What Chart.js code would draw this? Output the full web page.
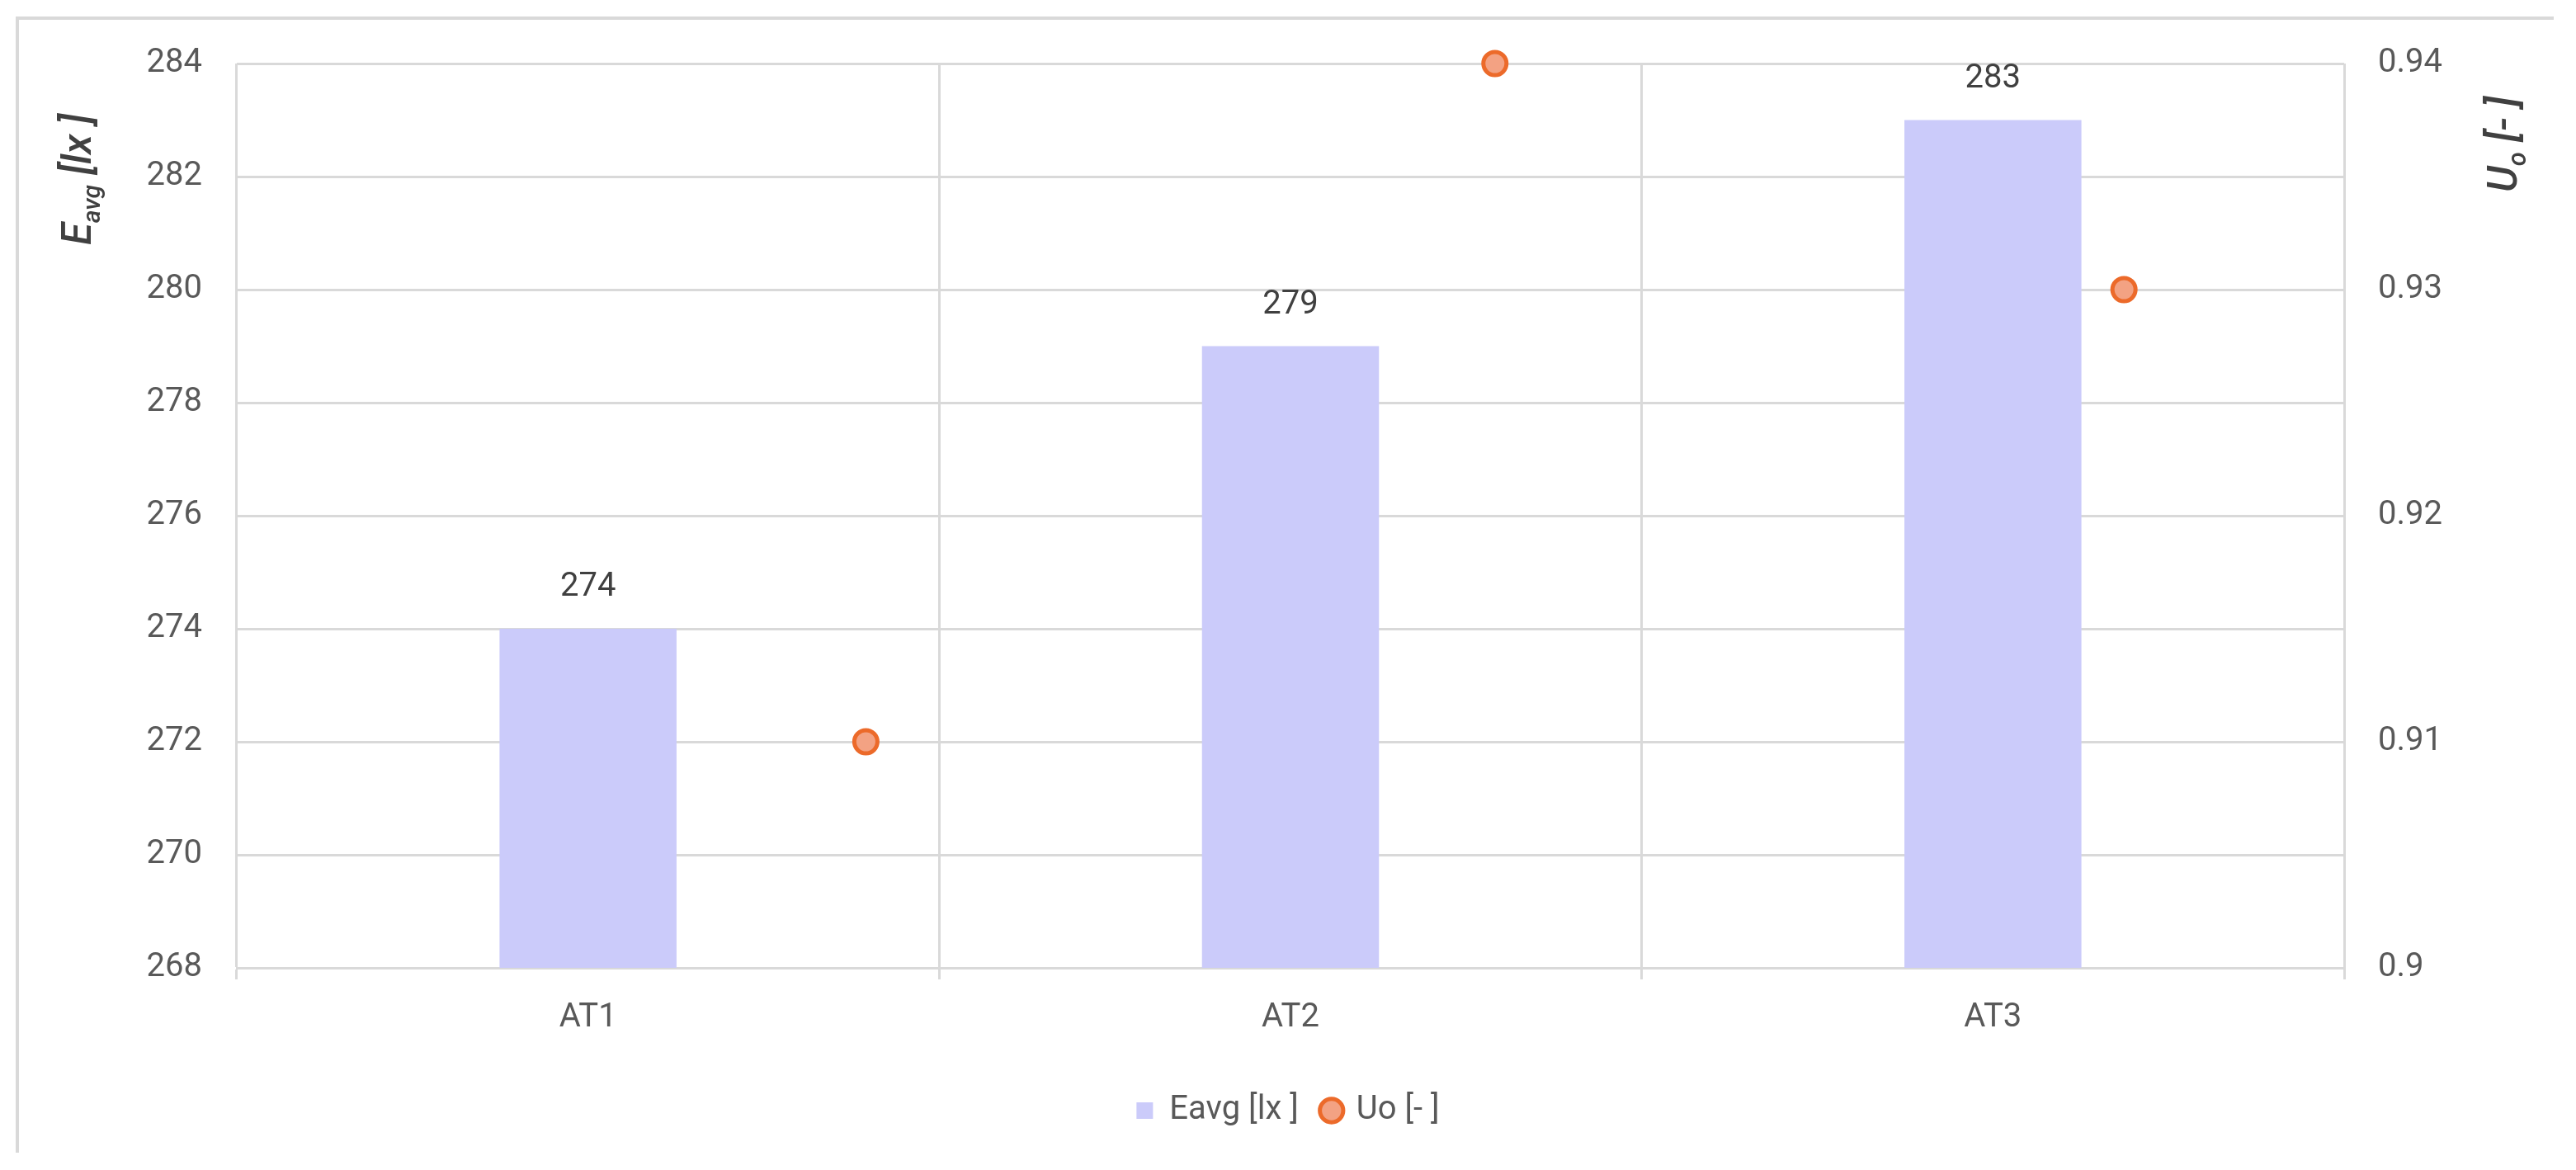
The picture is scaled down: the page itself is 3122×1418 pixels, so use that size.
<!DOCTYPE html>
<html>
<head>
<meta charset="utf-8">
<script src="https://cdn.jsdelivr.net/npm/chart.js@4.4.1/dist/chart.umd.min.js"></script>
<style>
  html, body { margin: 0; padding: 0; background: #ffffff; }
  #wrap { width: 3122px; height: 1418px; position: relative; }
  canvas { display: block; }
</style>
</head>
<body>
<div id="wrap"><canvas id="c" width="3122" height="1418"></canvas></div>
<script>
// ---- data ----
const categories = ['AT1', 'AT2', 'AT3'];
const eavgValues = [274, 279, 283];
const uoValues = [0.91, 0.94, 0.93];
const eavgLabel = 'Eavg [lx ]';
const uoLabel = 'Uo [- ]';
const leftTitle = { main: 'E', sub: 'avg', rest: ' [lx ]' };
const rightTitle = { main: 'U', sub: 'o', rest: ' [- ]' };
const leftMin = 268, leftMax = 284, leftStep = 2;
const rightMin = 0.9, rightMax = 0.94, rightStep = 0.01;

const FONT = 'Roboto';
const GRID = '#d9d9d9';
const TICK = '#595959';
const DARK = '#404040';

const frame = {
  id: 'frame',
  beforeDraw(chart) {
    const ctx = chart.ctx;
    ctx.save();
    ctx.fillStyle = '#ffffff';
    ctx.fillRect(0, 0, chart.width, chart.height);
    ctx.strokeStyle = GRID;
    ctx.lineWidth = 4;
    ctx.beginPath();
    ctx.moveTo(21, 1397);
    ctx.lineTo(21, 22);
    ctx.lineTo(3095, 22);
    ctx.stroke();
    ctx.restore();
  }
};

function drawSubTitle(ctx, t, x, y, size) {
  ctx.save();
  ctx.translate(x, y);
  ctx.rotate(-Math.PI / 2);
  ctx.fillStyle = DARK;
  ctx.textAlign = 'left';
  ctx.textBaseline = 'alphabetic';
  const big = 'italic 500 ' + size + 'px ' + FONT;
  const small = 'italic 500 ' + Math.round(size * 0.62) + 'px ' + FONT;
  ctx.font = big;
  ctx.fillText(t.main, 0, 0);
  let w = ctx.measureText(t.main).width;
  ctx.font = small;
  ctx.fillText(t.sub, w, size * 0.22);
  w += ctx.measureText(t.sub).width;
  ctx.font = big;
  ctx.fillText(t.rest, w, 0);
  ctx.restore();
}

const titles = {
  id: 'titles',
  afterDraw(chart) {
    const a = chart.chartArea;
    drawSubTitle(chart.ctx, leftTitle, a.left - 177, a.top + 220, 49);
    drawSubTitle(chart.ctx, rightTitle, a.right + 209, a.top + 156, 50);
  }
};

const barLabels = {
  id: 'barLabels',
  afterDatasetsDraw(chart) {
    const ctx = chart.ctx;
    const meta = chart.getDatasetMeta(0);
    ctx.save();
    ctx.font = '40px ' + FONT;
    ctx.fillStyle = DARK;
    ctx.textAlign = 'center';
    ctx.textBaseline = 'middle';
    meta.data.forEach((el, i) => {
      ctx.fillText(String(chart.data.datasets[0].data[i]), el.x, el.y - 50);
    });
    ctx.restore();
  }
};

new Chart(document.getElementById('c'), {
  data: {
    labels: categories,
    datasets: [
      {
        type: 'bar',
        label: eavgLabel,
        data: eavgValues,
        backgroundColor: '#cbcbfa',
        borderWidth: 0,
        pointStyle: 'rect',
        grouped: false,
        categoryPercentage: 1,
        barPercentage: 0.252,
        xAxisID: 'x',
        yAxisID: 'y'
      },
      {
        type: 'scatter',
        label: uoLabel,
        data: uoValues.map((v, i) => ({ x: i + 1, y: v })),
        backgroundColor: '#f3a283',
        borderColor: '#ec6a2a',
        pointRadius: 14,
        pointHoverRadius: 14,
        pointBorderWidth: 5,
        pointStyle: 'circle',
        clip: false,
        xAxisID: 'x2',
        yAxisID: 'y1'
      }
    ]
  },
  options: {
    responsive: false,
    devicePixelRatio: 1,
    animation: false,
    layout: { padding: { top: 77, bottom: 42, left: 0, right: 0 } },
    plugins: {
      tooltip: { enabled: false },
      legend: {
        position: 'bottom',
        labels: {
          usePointStyle: true,
          boxWidth: 20,
          boxHeight: 20,
          padding: 30,
          color: TICK,
          font: { family: FONT, size: 40 }
        }
      }
    },
    scales: {
      x: {
        type: 'category',
        position: 'bottom',
        offset: true,
        grid: { display: true, offset: true, color: GRID, lineWidth: 3, drawTicks: true, tickLength: 14, tickColor: GRID },
        border: { display: true, color: GRID, width: 3 },
        ticks: { color: TICK, font: { family: FONT, size: 40 }, padding: 23, maxRotation: 0 },
        afterFit(s) { s.height = 123; }
      },
      x2: {
        type: 'linear',
        display: false,
        min: 0,
        max: 3.35
      },
      y: {
        type: 'linear',
        position: 'left',
        min: leftMin,
        max: leftMax,
        grid: { color: GRID, lineWidth: 3, drawTicks: false },
        border: { display: false },
        ticks: { stepSize: leftStep, color: TICK, font: { family: FONT, size: 40 }, padding: 42 },
        afterFit(s) { s.width = 287; }
      },
      y1: {
        type: 'linear',
        position: 'right',
        min: rightMin,
        max: rightMax,
        grid: { display: false, drawTicks: false },
        border: { display: false },
        ticks: {
          stepSize: rightStep,
          color: TICK,
          font: { family: FONT, size: 40 },
          padding: 41,
          callback: (v) => String(parseFloat(Number(v).toFixed(2)))
        },
        afterFit(s) { s.width = 281; }
      }
    }
  },
  plugins: [frame, titles, barLabels]
});
</script>
</body>
</html>
